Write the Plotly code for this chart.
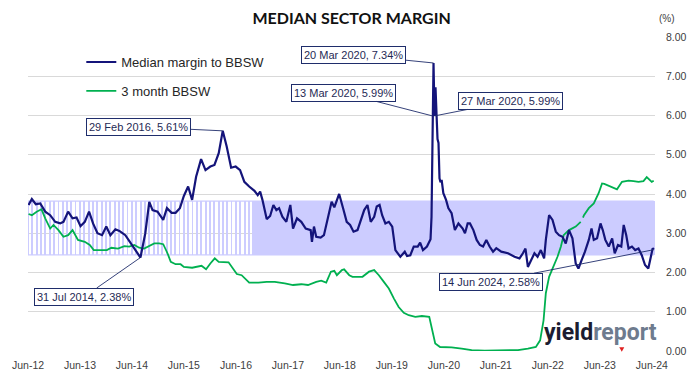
import pandas as pd
import plotly.graph_objects as go

# ---------------- data ----------------
margin_dates = [
    "2012-06-05", "2012-06-28", "2012-07-26", "2012-08-26", "2012-09-30", "2012-11-04", "2012-12-09",
    "2013-01-13", "2013-02-05", "2013-03-10", "2013-04-10", "2013-05-08", "2013-06-05", "2013-07-05",
    "2013-08-04", "2013-09-01", "2013-10-02", "2013-11-03", "2013-12-03", "2014-01-01", "2014-02-05",
    "2014-03-05", "2014-04-16", "2014-05-25", "2014-07-10", "2014-07-31", "2014-09-03", "2014-10-01",
    "2014-10-24", "2014-11-28", "2015-01-07", "2015-02-02", "2015-03-07", "2015-04-04", "2015-05-04",
    "2015-06-01", "2015-07-01", "2015-07-29", "2015-08-26", "2015-09-30", "2015-10-31", "2015-12-04",
    "2016-01-02", "2016-02-01", "2016-02-29", "2016-03-28", "2016-04-28", "2016-05-30", "2016-06-30",
    "2016-07-30", "2016-09-02", "2016-10-09", "2016-11-01", "2016-11-18", "2016-12-04", "2017-01-03",
    "2017-01-27", "2017-02-19", "2017-03-12", "2017-03-31", "2017-04-23", "2017-05-21", "2017-06-18",
    "2017-07-07", "2017-08-04", "2017-09-03", "2017-10-04", "2017-11-08", "2017-11-17", "2017-12-01",
    "2017-12-17", "2018-01-17", "2018-02-09", "2018-03-02", "2018-04-04", "2018-04-23", "2018-05-27",
    "2018-06-27", "2018-07-19", "2018-08-12", "2018-09-05", "2018-10-03", "2018-10-26", "2018-11-19",
    "2018-12-12", "2019-01-04", "2019-01-28", "2019-02-15", "2019-03-07", "2019-03-25", "2019-04-17",
    "2019-05-11", "2019-06-04", "2019-06-26", "2019-07-31", "2019-08-31", "2019-09-16", "2019-10-09",
    "2019-11-02", "2019-11-30", "2019-12-17", "2020-01-06", "2020-02-03", "2020-02-21", "2020-02-28",
    "2020-03-06", "2020-03-13", "2020-03-20", "2020-03-27", "2020-04-03", "2020-04-10", "2020-04-17",
    "2020-04-24", "2020-05-01", "2020-05-08", "2020-05-16", "2020-05-28", "2020-06-16", "2020-07-02",
    "2020-07-25", "2020-08-17", "2020-09-11", "2020-10-11", "2020-10-27", "2020-11-15", "2020-12-01",
    "2020-12-25", "2021-01-17", "2021-02-09", "2021-03-03", "2021-03-26", "2021-04-18", "2021-05-12",
    "2021-06-04", "2021-07-09", "2021-08-25", "2021-10-10", "2021-11-14", "2021-12-08", "2021-12-26",
    "2022-01-12", "2022-02-04", "2022-02-27", "2022-03-21", "2022-04-13", "2022-05-06", "2022-05-18",
    "2022-06-10", "2022-07-04", "2022-07-27", "2022-08-19", "2022-09-12", "2022-10-05", "2022-10-28",
    "2022-11-21", "2022-12-14", "2023-01-02", "2023-01-25", "2023-02-17", "2023-03-16", "2023-04-04",
    "2023-04-20", "2023-05-13", "2023-06-06", "2023-06-22", "2023-07-10", "2023-08-03", "2023-08-27",
    "2023-09-14", "2023-10-07", "2023-10-30", "2023-11-16", "2023-12-04", "2023-12-20", "2024-01-13",
    "2024-02-05", "2024-02-28", "2024-03-22", "2024-04-14", "2024-05-07", "2024-05-26", "2024-06-07",
    "2024-06-14",
]
margin_values = [
    3.72, 3.87, 3.74, 3.76, 3.55, 3.46, 3.29,
    3.25, 3.29, 3.55, 3.38, 3.40, 3.18, 3.29,
    3.55, 3.25, 3.00, 2.95, 3.17, 2.95, 3.10,
    3.06, 2.95, 2.74, 2.49, 2.38, 3.00, 3.80,
    3.59, 3.55, 3.34, 3.64, 3.52, 3.52, 3.64,
    3.95, 4.19, 3.85, 4.44, 4.89, 4.61, 4.70,
    4.74, 5.04, 5.61, 5.21, 4.67, 4.70, 4.61,
    4.31, 4.19, 4.08, 3.97, 4.06, 3.85, 3.36,
    3.44, 3.72, 3.59, 3.64, 3.42, 3.29, 3.72,
    3.12, 3.38, 3.29, 3.12, 3.08, 2.78, 3.17,
    2.91, 2.89, 2.95, 3.29, 3.80, 3.66, 4.00,
    3.59, 3.29, 3.21, 3.04, 3.08, 3.34, 3.59,
    3.72, 3.29, 3.42, 3.68, 3.72, 3.46, 3.25,
    3.29, 3.17, 2.57, 2.40, 2.53, 2.42, 2.44,
    2.66, 2.66, 2.76, 2.57, 2.66, 2.83, 2.85,
    3.42, 5.99, 7.34, 5.99, 6.72, 6.05, 5.40,
    5.30, 4.40, 4.30, 4.36, 4.02, 3.85, 3.64,
    3.51, 3.08, 3.25, 3.12, 3.00, 3.25, 3.25,
    3.08, 2.83, 2.70, 2.66, 2.83, 2.66, 2.53,
    2.62, 2.53, 2.49, 2.40, 2.36, 2.49, 2.61,
    2.14, 2.32, 2.49, 2.40, 2.57, 2.36, 2.83,
    3.46, 3.34, 3.04, 2.95, 2.91, 2.74, 3.08,
    2.87, 2.23, 2.10, 2.32, 2.53, 2.83, 3.12,
    2.83, 2.87, 3.25, 3.08, 2.83, 2.66, 2.87,
    2.49, 2.70, 2.66, 3.21, 2.95, 2.61, 2.66,
    2.57, 2.61, 2.44, 2.19, 2.10, 2.44, 2.62,
    2.58,
]

bbsw_dates = [
    "2012-06-05", "2012-06-28", "2012-08-01", "2012-09-04", "2012-09-30", "2012-11-04", "2012-11-27",
    "2013-01-01", "2013-02-05", "2013-03-10", "2013-04-10", "2013-05-18", "2013-07-05", "2013-08-09",
    "2013-09-06", "2013-10-29", "2013-12-07", "2014-01-08", "2014-02-23", "2014-04-09", "2014-05-13",
    "2014-06-18", "2014-07-22", "2014-08-26", "2014-10-01", "2014-11-05", "2014-12-09", "2015-01-07",
    "2015-02-06", "2015-03-01", "2015-04-04", "2015-05-09", "2015-06-01", "2015-07-29", "2015-10-03",
    "2015-11-04", "2015-12-04", "2016-01-04", "2016-02-01", "2016-04-10", "2016-06-07", "2016-07-11",
    "2016-09-02", "2016-11-06", "2017-01-03", "2017-03-01", "2017-05-10", "2017-07-07", "2017-09-03",
    "2017-10-20", "2017-12-17", "2018-01-21", "2018-02-25", "2018-03-30", "2018-04-23", "2018-05-11",
    "2018-06-15", "2018-07-01", "2018-08-06", "2018-08-29", "2018-11-07", "2018-12-23", "2019-01-28",
    "2019-03-02", "2019-04-06", "2019-05-11", "2019-06-15", "2019-07-19", "2019-08-24", "2019-09-28",
    "2019-11-13", "2019-12-29", "2020-02-19", "2020-03-08", "2020-04-01", "2020-05-05", "2020-07-25",
    "2020-10-04", "2020-12-13", "2021-03-14", "2021-08-02", "2021-11-03", "2022-01-12", "2022-03-09",
    "2022-04-08", "2022-05-02", "2022-05-18", "2022-06-10", "2022-07-04", "2022-08-08", "2022-09-01",
    "2022-09-20", "2022-10-28", "2022-12-14", "2023-01-18", "2023-01-26", "2023-02-03", "2023-02-10",
    "2023-03-16", "2023-04-20", "2023-05-24", "2023-06-17", "2023-07-03", "2023-08-14", "2023-09-30",
    "2023-11-04", "2023-12-20", "2024-01-24", "2024-02-28", "2024-04-03", "2024-04-26", "2024-05-31",
    "2024-06-14",
]
bbsw_values = [
    3.49, 3.46, 3.55, 3.61, 3.38, 3.12, 3.21,
    3.08, 2.91, 2.95, 3.08, 2.83, 2.78, 2.70,
    2.57, 2.57, 2.57, 2.63, 2.61, 2.67, 2.66,
    2.70, 2.63, 2.61, 2.67, 2.74, 2.74, 2.72,
    2.49, 2.27, 2.21, 2.21, 2.14, 2.12, 2.17,
    2.08, 2.23, 2.36, 2.27, 2.26, 1.96, 1.93,
    1.74, 1.74, 1.76, 1.76, 1.72, 1.68, 1.70,
    1.68, 1.76, 1.79, 1.74, 2.02, 2.04, 1.93,
    2.06, 2.08, 1.93, 1.89, 1.89, 2.02, 2.06,
    1.93, 1.76, 1.59, 1.34, 1.12, 0.97, 0.91,
    0.87, 0.89, 0.87, 0.61, 0.19, 0.10, 0.09,
    0.06, 0.02, 0.01, 0.01, 0.02, 0.06, 0.10,
    0.27, 0.78, 1.47, 1.89, 2.10, 2.40, 2.66,
    2.95, 3.08, 3.17, 3.29, None, 3.40, 3.46,
    3.64, 3.76, 4.02, 4.27, 4.26, 4.19, 4.12,
    4.31, 4.34, 4.33, 4.31, 4.33, 4.43, 4.31,
    4.34,
]

# shaded range band
band_low = 2.45
band_high = 3.82
band_monthly_start, band_monthly_end = "2012-06-01", "2016-10-01"
band_weekly_start, band_weekly_end = "2016-10-07", "2024-06-14"
band_missing_weeks = [
    "2016-12-30", "2017-05-19", "2017-09-08", "2017-10-06", "2017-12-15", "2018-07-27",
    "2018-12-21", "2019-10-04", "2019-12-20", "2020-02-28", "2020-11-20", "2021-01-01",
    "2021-05-14", "2021-06-11", "2022-01-21", "2022-11-18", "2023-01-06", "2023-05-12",
    "2023-12-22", "2024-06-07",
]

callouts = [
    ("2016-02-29", 5.61, "29 Feb 2016, 5.61%", -84, -4),
    ("2014-07-31", 2.38, "31 Jul 2014, 2.38%", -56, 39),
    ("2020-03-20", 7.34, "20 Mar 2020, 7.34%", -80, -8),
    ("2020-03-13", 5.99, "13 Mar 2020, 5.99%", -89, -23),
    ("2020-03-27", 5.99, "27 Mar 2020, 5.99%", 76, -15),
    ("2024-06-14", 2.58, "14 Jun 2024, 2.58%", -163, 32),
]

y_ticks = [0, 1, 2, 3, 4, 5, 6, 7, 8]
x_range = ["2012-06-01", "2024-06-23"]

# ---------------- build ----------------
monthly = pd.date_range(band_monthly_start, band_monthly_end, freq="MS")
weekly = pd.date_range(band_weekly_start, band_weekly_end, freq="W-FRI")
missing = pd.to_datetime(band_missing_weeks)
weekly = [d for d in weekly if min(abs((d - m).days) for m in missing) > 3]

DAY = 86400000
BAND_COLOR = "rgb(204,204,255)"
NAVY = "#14147A"
GREEN = "#00B050"
BOX = "#1F2D6B"
TXT = "#404040"

fig = go.Figure()
fig.add_trace(go.Bar(
    x=list(monthly), y=[band_high - band_low] * len(monthly), base=[band_low] * len(monthly),
    width=[6 * DAY] * len(monthly), marker=dict(color=BAND_COLOR, line=dict(width=0)),
    showlegend=False, hoverinfo="skip"))
fig.add_trace(go.Bar(
    x=weekly, y=[band_high - band_low] * len(weekly), base=[band_low] * len(weekly),
    width=[7.4 * DAY] * len(weekly), marker=dict(color=BAND_COLOR, line=dict(width=0)),
    showlegend=False, hoverinfo="skip"))
for lvl in (band_low, band_high):
    fig.add_trace(go.Scatter(
        x=[monthly[0], weekly[-1]], y=[lvl, lvl], mode="lines",
        line=dict(color=BAND_COLOR, width=1.2), showlegend=False, hoverinfo="skip"))

fig.add_trace(go.Scatter(
    x=bbsw_dates, y=bbsw_values, mode="lines", name="3 month BBSW",
    line=dict(color=GREEN, width=1.8), connectgaps=False, legendrank=2, legendgroup="b"))
fig.add_trace(go.Scatter(
    x=margin_dates, y=margin_values, mode="lines", name="Median margin to BBSW",
    line=dict(color=NAVY, width=2.2), legendrank=1, legendgroup="a"))

annotations = []
for d, v, txt, ax, ay in callouts:
    annotations.append(dict(
        x=d, y=v, xref="x", yref="y", text=txt, showarrow=True, arrowhead=0,
        arrowwidth=0.9, arrowcolor=BOX, ax=ax, ay=ay, standoff=0,
        bgcolor="white", bordercolor=BOX, borderwidth=1, borderpad=2,
        font=dict(family="Liberation Sans, Arial", size=11, color="#1F2A55")))
annotations.append(dict(
    x=1.035, y=1.06, xref="paper", yref="paper", xanchor="right", yanchor="middle",
    text="(%)", showarrow=False,
    font=dict(family="Liberation Sans, Arial", size=10, color=TXT)))
annotations.append(dict(
    x=1.006, y=0.058, xref="paper", yref="paper", xanchor="right", yanchor="middle",
    text="<b>yield</b><b><span style='color:#6E7B8E'>report</span></b>", showarrow=False,
    font=dict(family="Roboto", size=23, color="#1C1C30")))

fig.update_layout(
    width=699, height=383,
    margin=dict(l=23, r=44, t=37, b=32),
    paper_bgcolor="white", plot_bgcolor="white",
    title=dict(text="<b>MEDIAN SECTOR MARGIN</b>", x=0.503, xanchor="center",
               y=0.953, yanchor="middle",
               font=dict(family="Lato", size=16, color="#111111")),
    barmode="overlay", bargap=0,
    showlegend=True,
    legend=dict(x=0.085, y=0.968, xanchor="left", yanchor="top",
                bgcolor="rgba(0,0,0,0)", tracegroupgap=9, traceorder="grouped",
                font=dict(family="Liberation Sans, Arial", size=13, color="#262626")),
    xaxis=dict(type="date", range=x_range, tick0="2012-06-01", dtick="M12",
               tickformat="%b-%y", showgrid=False, zeroline=False, showline=False,
               ticks="", ticklabelstandoff=6,
               tickfont=dict(family="Liberation Sans, Arial", size=10.5, color=TXT)),
    yaxis=dict(side="right", range=[-0.002, 8.002], tickvals=y_ticks, tickformat=".2f",
               showgrid=True, gridcolor="#D9D9D9", gridwidth=1, zeroline=False,
               showline=False, ticks="", ticklabelstandoff=10,
               tickfont=dict(family="Liberation Sans, Arial", size=10.5, color=TXT)),
    annotations=annotations,
    shapes=[dict(type="path", xref="paper", yref="paper",
                 path="M 0.943 0.012 L 0.951 0.012 L 0.947 -0.002 Z",
                 fillcolor="#E02020", line=dict(width=0))],
)

fig.write_html("out.html", config={"displayModeBar": False},
               post_script="document.body.style.margin='0';document.body.style.overflow='hidden';")
